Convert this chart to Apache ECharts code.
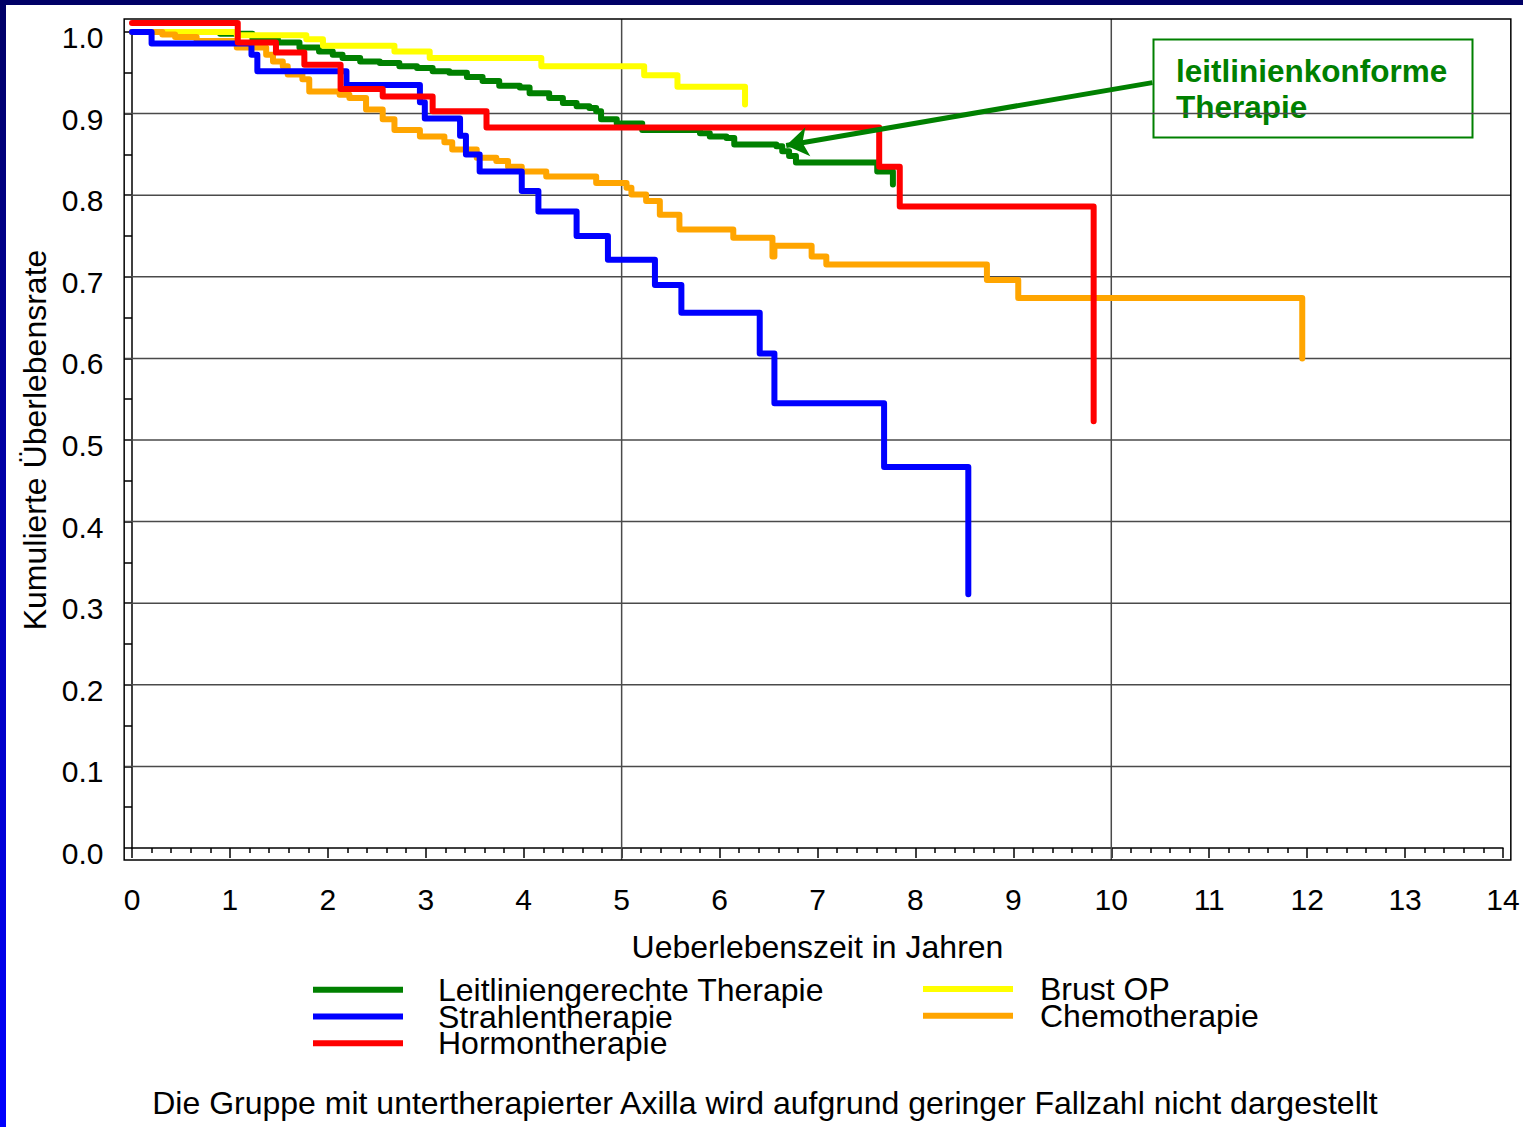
<!DOCTYPE html>
<html>
<head>
<meta charset="utf-8">
<script src="https://cdn.jsdelivr.net/npm/echarts@6/dist/echarts.min.js"></script>
<style>
  html, body { margin: 0; padding: 0; background: #ffffff; }
  #chart { position: absolute; left: 0; top: 0; width: 1523px; height: 1127px; }
  .band-top { position: absolute; left: 0; top: 0; width: 1523px; height: 5px; background: #000066; z-index: 2; }
  .band-left { position: absolute; left: 0; top: 0; width: 6px; height: 1127px; background: linear-gradient(#000066, #0000ff); z-index: 2; }
</style>
</head>
<body>
<div id="chart"></div>
<div class="band-top"></div>
<div class="band-left"></div>
<script>
// Kaplan-Meier curves: time in years and cumulative survival after each step
const seriesNames = ['Leitliniengerechte Therapie', 'Strahlentherapie', 'Hormontherapie', 'Brust OP', 'Chemotherapie'];

const leitlinieYears = [0, 0.9, 1.23, 1.49, 1.71, 1.91, 2.05, 2.15, 2.33, 2.53, 2.73, 2.91, 3.07, 3.24, 3.42, 3.58, 3.75, 3.96, 4.06, 4.26, 4.40, 4.54, 4.67, 4.74, 4.79, 4.95, 5.21, 5.80, 5.90, 6.07, 6.15, 6.58, 6.64, 6.71, 6.78, 7.61, 7.77];
const leitlinieRate  = [1.0, 0.998, 0.991, 0.987, 0.981, 0.976, 0.972, 0.968, 0.964, 0.962, 0.958, 0.956, 0.952, 0.950, 0.945, 0.940, 0.934, 0.932, 0.925, 0.919, 0.913, 0.909, 0.907, 0.903, 0.893, 0.888, 0.880, 0.876, 0.872, 0.870, 0.862, 0.860, 0.854, 0.848, 0.840, 0.829, 0.813];

const strahlenYears = [0, 0.20, 1.22, 1.28, 2.19, 2.94, 2.99, 3.35, 3.41, 3.55, 3.98, 4.15, 4.54, 4.86, 5.34, 5.61, 6.41, 6.56, 7.68, 8.54];
const strahlenRate  = [1.0, 0.986, 0.972, 0.952, 0.935, 0.914, 0.894, 0.873, 0.850, 0.829, 0.805, 0.780, 0.750, 0.721, 0.690, 0.656, 0.606, 0.545, 0.467, 0.311];

const hormonYears = [0, 1.08, 1.47, 1.76, 2.13, 2.56, 3.07, 3.62, 7.63, 7.84, 9.82];
const hormonRate  = [1.011, 0.987, 0.975, 0.960, 0.930, 0.921, 0.903, 0.883, 0.835, 0.786, 0.523];

const brustYears = [0, 1.07, 1.78, 1.95, 2.68, 3.04, 4.18, 5.23, 5.57, 6.26];
const brustRate  = [1.0, 0.996, 0.991, 0.983, 0.976, 0.968, 0.958, 0.947, 0.933, 0.911];

const chemoYears = [0, 0.31, 0.44, 0.66, 1.07, 1.37, 1.44, 1.54, 1.59, 1.74, 1.81, 2.12, 2.22, 2.39, 2.56, 2.68, 2.94, 3.19, 3.27, 3.52, 3.72, 3.84, 3.98, 4.23, 4.74, 5.05, 5.10, 5.25, 5.39, 5.59, 6.14, 6.54, 6.56, 6.94, 7.09, 8.73, 9.05, 11.95];
const chemoRate  = [1.0, 0.997, 0.994, 0.989, 0.981, 0.972, 0.964, 0.958, 0.948, 0.942, 0.927, 0.923, 0.919, 0.905, 0.893, 0.880, 0.872, 0.865, 0.856, 0.846, 0.842, 0.835, 0.829, 0.823, 0.815, 0.809, 0.801, 0.793, 0.776, 0.758, 0.748, 0.725, 0.738, 0.725, 0.715, 0.696, 0.674, 0.600];

// reference lines of the plot
const gridRates = [0.1, 0.2, 0.3, 0.4, 0.5, 0.6, 0.7, 0.8, 0.9];
const gridYears = [5, 10];

// callout arrow: from the label box to the guideline curve
const arrowFrom = [10.42, 0.938];
const arrowTo   = [6.68, 0.861];

const FONT = 'Liberation Sans, Arial, Helvetica, sans-serif';
// plot frame extends slightly beyond the axis range
const FRAME = { x0: -0.08, x1: 14.08, y0: -0.0147, y1: 1.016 };

function pairs(xs, ys) { return xs.map((x, i) => [x, ys[i]]); }

function curve(name, xs, ys, color) {
  return {
    type: 'line', name: name, step: 'end', data: pairs(xs, ys),
    showSymbol: false, symbol: 'none', clip: false, silent: true,
    color: color, itemStyle: { color: color },
    lineStyle: { color: color, width: 6, cap: 'round', join: 'round' }
  };
}

const gridItems = gridRates.map(v => [0, v]).concat(gridYears.map(t => [1, t])).concat([[2, 0]]);

const chart = echarts.init(document.getElementById('chart'), null, { renderer: 'svg' });

const green = curve(seriesNames[0], leitlinieYears, leitlinieRate, '#008000');
green.markLine = {
  silent: true, symbol: ['none', 'arrow'], symbolSize: 22,
  label: { show: false },
  lineStyle: { color: '#008000', width: 5, type: 'solid' },
  data: [[{ coord: arrowFrom }, { coord: arrowTo }]]
};

const legendBase = {
  orient: 'vertical', icon: 'rect', itemWidth: 90, itemHeight: 6, itemGap: -5.2, selectedMode: false
};

chart.setOption({
  animation: false,
  backgroundColor: 'transparent',
  textStyle: { fontFamily: FONT },
  grid: { left: 132, right: 20, top: 32, bottom: 279, outerBoundsMode: 'none', containLabel: false },
  xAxis: {
    type: 'value', min: 0, max: 14, interval: 1, offset: 12,
    name: 'Ueberlebenszeit in Jahren', nameLocation: 'middle', nameGap: 71,
    nameTextStyle: { fontSize: 32, color: '#000', fontFamily: FONT },
    axisLine: { show: true, lineStyle: { color: '#000', width: 1.5 } },
    axisTick: { show: true, length: 10, lineStyle: { color: '#000', width: 1.5 } },
    minorTick: { show: true, splitNumber: 5, length: 5, lineStyle: { color: '#000', width: 1.5 } },
    axisLabel: { fontSize: 30, color: '#000', margin: 24, fontFamily: FONT },
    splitLine: { show: false }, minorSplitLine: { show: false }
  },
  yAxis: {
    type: 'value', min: 0, max: 1, interval: 0.1, offset: 7.5,
    name: 'Kumulierte Überlebensrate', nameLocation: 'middle', nameRotate: 90, nameGap: 74,
    nameTextStyle: { fontSize: 32, color: '#000', fontFamily: FONT },
    axisLine: { show: true, lineStyle: { color: '#000', width: 1.5 } },
    axisTick: { show: true, length: 8, lineStyle: { color: '#000', width: 1.5 } },
    minorTick: { show: true, splitNumber: 2, length: 8, lineStyle: { color: '#000', width: 1.5 } },
    axisLabel: { fontSize: 30, color: '#000', margin: 21, fontFamily: FONT,
                 verticalAlign: 'top', lineHeight: 11,
                 formatter: v => v.toFixed(1) },
    splitLine: { show: false }, minorSplitLine: { show: false }
  },
  legend: [
    Object.assign({}, legendBase, {
      data: seriesNames.slice(0, 3), left: 308, top: 968.7,
      textStyle: { fontSize: 32, color: '#000', fontFamily: FONT, padding: [0, 0, 0, 30] }
    }),
    Object.assign({}, legendBase, {
      data: seriesNames.slice(3), left: 918, top: 968,
      textStyle: { fontSize: 32, color: '#000', fontFamily: FONT, padding: [0, 0, 0, 22] }
    })
  ],
  graphic: [
    {
      type: 'rect', silent: true,
      shape: { x: 1153.5, y: 39.5, width: 319, height: 98 },
      style: { fill: 'none', stroke: '#008000', lineWidth: 2 }
    },
    {
      type: 'text', silent: true, x: 1176, y: 89,
      style: { text: 'leitlinienkonforme\nTherapie', fill: '#008000', fontSize: 31.5, fontWeight: 'bold',
               fontFamily: FONT, lineHeight: 36.5, align: 'left', verticalAlign: 'middle' }
    },
    {
      type: 'text', silent: true, x: 765, y: 1103,
      style: { text: 'Die Gruppe mit untertherapierter Axilla wird aufgrund geringer Fallzahl nicht dargestellt',
               fill: '#000', fontSize: 32, fontFamily: FONT, align: 'center', verticalAlign: 'middle' }
    }
  ],
  series: [
    {
      type: 'custom', name: 'gridlines', z: 1, silent: true, clip: false,
      data: gridItems,
      renderItem: function (params, api) {
        const kind = api.value(0), val = api.value(1);
        if (kind === 0) {
          const a = api.coord([FRAME.x0, val]), b = api.coord([FRAME.x1, val]);
          return { type: 'line', shape: { x1: a[0], y1: a[1], x2: b[0], y2: b[1] },
                   style: { stroke: '#4a4a4a', lineWidth: 1.5 } };
        }
        if (kind === 1) {
          const a = api.coord([val, FRAME.y0]), b = api.coord([val, FRAME.y1]);
          return { type: 'line', shape: { x1: a[0], y1: a[1], x2: b[0], y2: b[1] },
                   style: { stroke: '#4a4a4a', lineWidth: 1.5 } };
        }
        const tl = api.coord([FRAME.x0, FRAME.y1]), br = api.coord([FRAME.x1, FRAME.y0]);
        return { type: 'rect', shape: { x: tl[0], y: tl[1], width: br[0] - tl[0], height: br[1] - tl[1] },
                 style: { fill: 'none', stroke: '#000', lineWidth: 1.5 } };
      }
    },
    green,
    curve(seriesNames[3], brustYears, brustRate, '#ffff00'),
    curve(seriesNames[4], chemoYears, chemoRate, '#ffa500'),
    curve(seriesNames[1], strahlenYears, strahlenRate, '#0000ff'),
    curve(seriesNames[2], hormonYears, hormonRate, '#ff0000')
  ]
});
</script>
</body>
</html>
